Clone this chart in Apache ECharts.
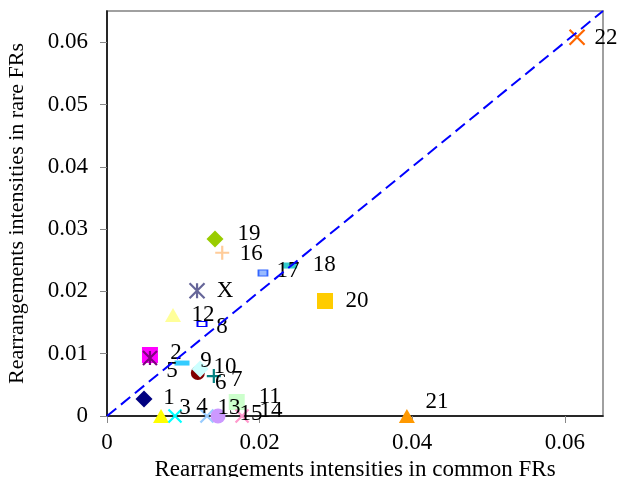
<!DOCTYPE html>
<html><head><meta charset="utf-8">
<script src="https://cdn.jsdelivr.net/npm/echarts@6/dist/echarts.min.js"></script>
<style>html,body{margin:0;padding:0;background:#fff}#c{width:618px;height:477px}</style>
</head><body><div id="c"></div>
<script>
// Data
var pointNames = ['1','2','3','4','5','6','7','8','9','10','11','12','13','14','15','16','17','18','19','20','21','22','X'];
var commonFR = [0.00485,0.00563,0.00708,0.00891,0.00563,0.0119,0.0140,0.01245,0.00983,0.0122,0.0170,0.00865,0.0131,0.0177,0.01455,0.0151,0.02044,0.0240,0.01415,0.02857,0.0393,0.0616,0.0118];
var rareFR   = [0.00273,0.00979,0,0,0.0093,0.0069,0.0064,0.01476,0.0085,0.00754,0.00225,0.0162,0,0,0,0.0262,0.02295,0.02415,0.0284,0.01846,0,0.0608,0.0201];
var xTicks = [0, 0.02, 0.04, 0.06];
var yTicks = [0, 0.01, 0.02, 0.03, 0.04, 0.05, 0.06];
var diagonal = [[0,0],[0.065,0.065]];

// Styles (marker shape, colour, size, label placement)
var P_X = 'path://M0,0 L10,10 M10,0 L0,10';
var P_STAR = 'path://M0,0 L10,10 M10,0 L0,10 M5,0 L5,10';
var P_PLUS = 'path://M5,0 L5,10 M0,5 L10,5';
var styles = {
  '1':  {s:'diamond', c:'#000080', z:17},
  '2':  {s:'rect', c:'#FF00FF', z:16},
  '3':  {s:'triangle', c:'#FFFF00', z:[16,14]},
  '4':  {s:P_X, c:'#00FFFF', z:13, line:true},
  '5':  {s:P_STAR, c:'#800080', z:14, line:true},
  '6':  {s:'circle', c:'#800000', z:14},
  '7':  {s:P_PLUS, c:'#008080', z:14, line:true},
  '8':  {s:'rect', c:'#FFFFFF', z:[9,5], bc:'#0000FF'},
  '9':  {s:'rect', c:'#33CCFF', z:[15,5]},
  '10': {s:'diamond', c:'#CCFFFF', z:17},
  '11': {s:'rect', c:'#CCFFCC', z:16},
  '12': {s:'triangle', c:'#FFFF99', z:[16,14]},
  '13': {s:P_X, c:'#99CCFF', z:13, line:true},
  '14': {s:P_X, c:'#FF99CC', z:13, line:true},
  '15': {s:'circle', c:'#CC99FF', z:15},
  '16': {s:P_PLUS, c:'#FFCC99', z:14, line:true},
  '17': {s:'rect', c:'#99BBFF', z:[9,6], bc:'#3366FF'},
  '18': {s:'rect', c:'#33CCCC', z:[14,6]},
  '19': {s:'diamond', c:'#99CC00', z:17},
  '20': {s:'rect', c:'#FFCC00', z:16},
  '21': {s:'triangle', c:'#FF9900', z:[16,14]},
  '22': {s:P_X, c:'#FF6600', z:15, line:true},
  'X':  {s:P_STAR, c:'#666699', z:15, line:true}
};
var labelOffsets = {
  '1':[25,-1],'2':[26,-2],'3':[24,-8],'4':[27,-9],'5':[22,13],'6':[23,10],'7':[23,4],
  '8':[20,3],'9':[24,-2],'10':[25,-2],'11':[33,-5],'12':[30,0],'13':[22,-8],'14':[29,-5],
  '15':[33,-2],'16':[29,1],'17':[25,-2],'18':[34,-1],'19':[34,-5],'20':[32,0],'21':[30,-14],
  '22':[29,1],'X':[28,0]
};

var FONT = 'Liberation Serif, Times New Roman, serif';
var FS = 23;

var series = [];
pointNames.forEach(function(n, i){
  var st = styles[n];
  var itemStyle = st.line ? {color:'rgba(0,0,0,0)', borderColor:st.c, borderWidth:2.2, opacity:1}
                          : {color:st.c, borderColor: st.bc || st.c, borderWidth: st.bc ? 1.5 : 0, opacity:1};
  series.push({
    type:'scatter', name:n, clip:false,
    symbol:st.s, symbolSize:st.z,
    itemStyle:itemStyle,
    data:[[commonFR[i], rareFR[i]]],
    label:{show:true, position:'inside', offset:labelOffsets[n], formatter:n,
      color:'#000', opacity:1, fontFamily:FONT, fontSize:FS},
    emphasis:{disabled:true}, z:3
  });
});
series.push({
  type:'line', data:diagonal, symbol:'none', silent:true, z:4,
  lineStyle:{color:'#0000FF', width:2, type:[12,6]}
});

var chart = echarts.init(document.getElementById('c'), null, {renderer:'canvas'});
chart.setOption({
  animation:false,
  backgroundColor:'#fff',
  grid:{left:107, right:15, top:11, bottom:61, containLabel:false, outerBoundsMode:'none',
    show:true, borderColor:'#a0a0a0', borderWidth:2, backgroundColor:'transparent'},
  xAxis:{
    type:'value', min:0, max:0.065,
    name:'Rearrangements intensities in common FRs', nameLocation:'middle', nameGap:40,
    nameTextStyle:{color:'#000', fontFamily:FONT, fontSize:FS},
    axisLine:{show:true, onZero:false, lineStyle:{color:'#000', width:1.5}},
    axisTick:{show:true, length:7, lineStyle:{color:'#888'}, customValues:xTicks},
    axisLabel:{color:'#000', fontFamily:FONT, fontSize:FS, margin:15, customValues:xTicks},
    splitLine:{show:false}
  },
  yAxis:{
    type:'value', min:0, max:0.065,
    name:'Rearrangements intensities in rare FRs', nameLocation:'middle', nameGap:79,
    nameTextStyle:{color:'#000', fontFamily:FONT, fontSize:22},
    axisLine:{show:true, onZero:false, lineStyle:{color:'#000', width:1.5}},
    axisTick:{show:true, length:7, lineStyle:{color:'#888'}, customValues:yTicks},
    axisLabel:{color:'#000', fontFamily:FONT, fontSize:FS, margin:19, customValues:yTicks},
    splitLine:{show:false}
  },
  series:series
});
</script></body></html>
